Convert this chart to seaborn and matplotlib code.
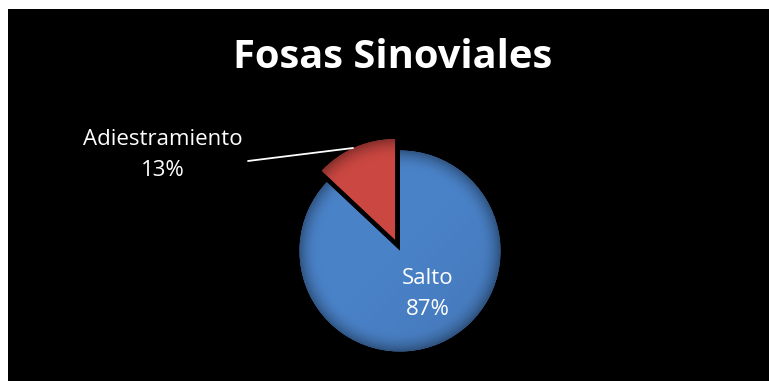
import numpy as np
import matplotlib
matplotlib.use("Agg")
import matplotlib.pyplot as plt
import seaborn as sns
from matplotlib.patches import Rectangle

# ---- data ----
title = "Fosas Sinoviales"
categories = ["Adiestramiento", "Salto"]
values = [13, 87]
colors = ["#CB4741", "#4A82C8"]

sns.set_theme(style="white")
plt.rcParams['font.family'] = ['Open Sans', 'DejaVu Sans']

W, H = 769, 381
fig = plt.figure(figsize=(W / 100, H / 100), dpi=100, facecolor="white")
ax = fig.add_axes([0, 0, 1, 1])

# black chart area
ax.add_patch(Rectangle((8, 9), W - 8, H - 9, facecolor="black", edgecolor="none", zorder=0))

cx, cy, r = 400, 251, 100.5
# y axis is inverted (pixel coords), so go clockwise in data to get a visual counter-clockwise pie
wedges, _ = ax.pie(values, colors=colors, startangle=-90, counterclock=False,
                   center=(cx, cy), radius=r, explode=[12.5, 0],
                   wedgeprops=dict(linewidth=0), frame=True)
ax.set_xlim(0, W)
ax.set_ylim(H, 0)
ax.set_aspect("equal")
ax.axis("off")

# radial shading for a beveled look
yy, xx = np.mgrid[0:H, 0:W] + 0.5
for w, c in zip(wedges, colors):
    wc = w.center
    d = np.hypot(xx - wc[0], yy - wc[1]) / r
    base = np.array(matplotlib.colors.to_rgb(c))
    shade = np.clip(1.0 - 0.35 * np.clip((d - 0.8) / 0.2, 0, 1) ** 2, 0, 1)
    shade *= 1.0 - 0.08 * np.clip(((xx - wc[0]) + (yy - wc[1])) / (2 * r), 0, 1)
    img = np.ones((H, W, 4))
    img[..., :3] = base[None, None, :] * shade[..., None]
    im = ax.imshow(img, extent=(0, W, H, 0), zorder=2, interpolation="bilinear")
    im.set_clip_path(w)
ax.set_xlim(0, W)
ax.set_ylim(H, 0)

# labels
ax.text(393, 58, title, color="white", fontsize=28.7, fontweight="bold",
        ha="center", va="center", zorder=5)
ax.text(163, 155, f"{categories[0]}\n{values[0]}%", color="white", fontsize=16,
        ha="center", va="center", linespacing=1.6, zorder=5)
ax.plot([248, 353], [161, 148], color="white", lw=1.3, zorder=5)
ax.text(428, 294, f"{categories[1]}\n{values[1]}%", color="white", fontsize=16,
        ha="center", va="center", linespacing=1.6, zorder=5)

fig.savefig("out.png", dpi=100, facecolor="white")
